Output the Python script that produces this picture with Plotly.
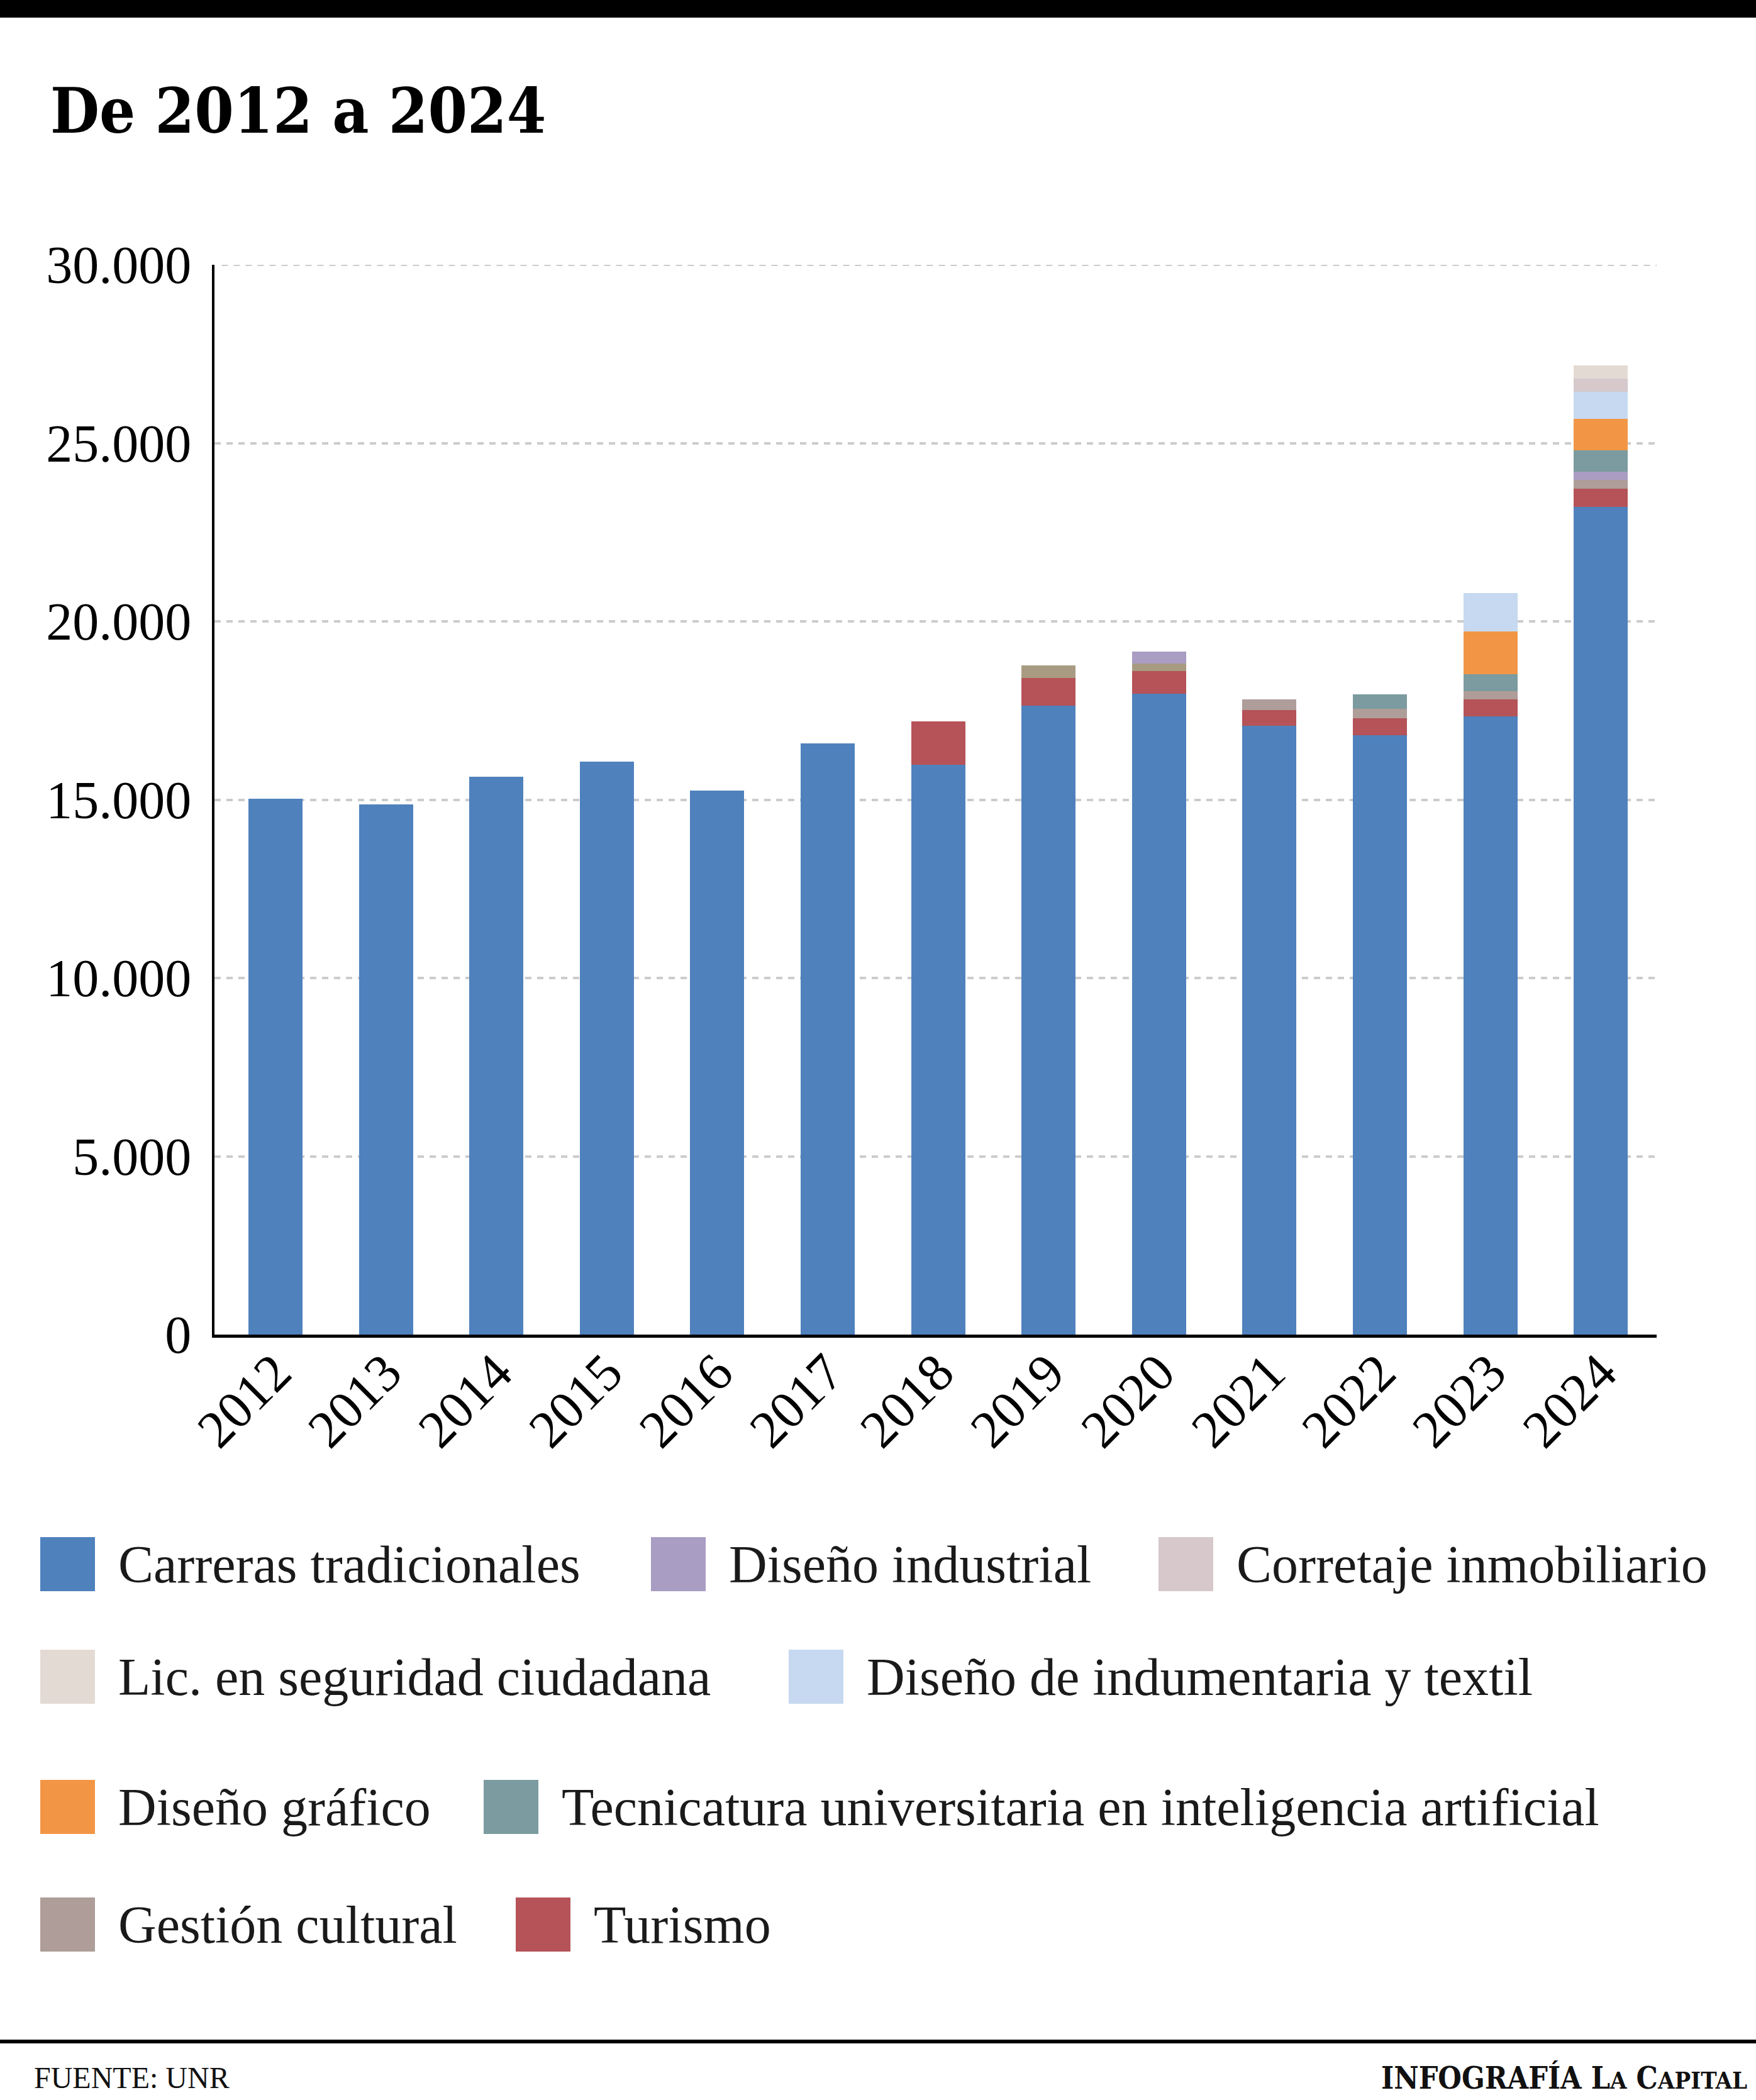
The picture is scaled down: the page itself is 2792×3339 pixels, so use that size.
"""Enrolment by year at UNR, 2012-2024: stacked bars of traditional degrees + new programmes."""

import plotly.graph_objects as go

W, H = 2792, 3339
L, R, T, B = 341, 2634, 421, 2122        # plot area in page pixels
PW, PH = R - L, B - T

YEARS = ["2012", "2013", "2014", "2015", "2016", "2017", "2018",
         "2019", "2020", "2021", "2022", "2023", "2024"]

CARRERAS = [15020, 14860, 15640, 16070, 15260, 16580, 15980,
            17640, 17980, 17070, 16800, 17330, 23210]
TURISMO = [0, 0, 0, 0, 0, 0, 1210, 770, 620, 440, 490, 480, 520]
GESTION = [0, 0, 0, 0, 0, 0, 0, 360, 210, 300, 250, 230, 230]
DIS_INDUSTRIAL = [0, 0, 0, 0, 0, 0, 0, 0, 350, 0, 0, 0, 240]
TEC_IA = [0, 0, 0, 0, 0, 0, 0, 0, 0, 0, 410, 480, 590]
DIS_GRAFICO = [0, 0, 0, 0, 0, 0, 0, 0, 0, 0, 0, 1200, 890]
INDUMENTARIA = [0, 0, 0, 0, 0, 0, 0, 0, 0, 0, 0, 1080, 750]
CORRETAJE = [0, 0, 0, 0, 0, 0, 0, 0, 0, 0, 0, 0, 380]
SEGURIDAD = [0, 0, 0, 0, 0, 0, 0, 0, 0, 0, 0, 0, 370]

Y_TICKS = [0, 5000, 10000, 15000, 20000, 25000, 30000]
Y_LABELS = ["0", "5.000", "10.000", "15.000", "20.000", "25.000", "30.000"]

# stacking order bottom -> top: (name, values, colour)
SERIES = [
    ("Carreras tradicionales", CARRERAS, "#4f81bd"),
    ("Turismo", TURISMO, "#b55358"),
    ("Gestión cultural", GESTION, "#ae9d98"),
    ("Diseño industrial", DIS_INDUSTRIAL, "#a99dc3"),
    ("Tecnicatura universitaria en inteligencia artificial", TEC_IA, "#7b9ba0"),
    ("Diseño gráfico", DIS_GRAFICO, "#f29646"),
    ("Diseño de indumentaria y textil", INDUMENTARIA, "#c6d9f0"),
    ("Corretaje inmobiliario", CORRETAJE, "#d6c8cb"),
    ("Lic. en seguridad ciudadana", SEGURIDAD, "#e4dad4"),
]
# 2019/2020 Gestión cultural block is printed in a khaki tone in the original
GESTION_COLORS = ["#a89b82" if y in ("2019", "2020") else "#ae9d98" for y in YEARS]

# legend rows as laid out in the print version: (name, swatch left px, row centre px)
LEGEND = [
    ("Carreras tradicionales", 64, 2487), ("Diseño industrial", 1035, 2487),
    ("Corretaje inmobiliario", 1842, 2487),
    ("Lic. en seguridad ciudadana", 64, 2666), ("Diseño de indumentaria y textil", 1254, 2666),
    ("Diseño gráfico", 64, 2873),
    ("Tecnicatura universitaria en inteligencia artificial", 769, 2873),
    ("Gestión cultural", 64, 3060), ("Turismo", 820, 3060),
]

SERIF = "Liberation Serif, Times New Roman, serif"
HEAVY = "DejaVu Serif Condensed, DejaVu Serif, serif"
GRID = "#cccccc"


def px(x):
    return (x - L) / PW


def py(y):
    return (B - y) / PH


fig = go.Figure()
for name, vals, color in SERIES:
    fig.add_trace(go.Bar(
        x=YEARS, y=vals, name=name, width=0.49,
        marker=dict(color=GESTION_COLORS if name == "Gestión cultural" else color,
                    line=dict(width=0)),
        showlegend=False,
    ))

colors = {n: c for n, _, c in SERIES}
shapes = [
    dict(type="rect", xref="paper", yref="paper", x0=px(0), x1=px(W), y0=py(0), y1=py(28),
         fillcolor="black", line=dict(width=0), layer="above"),
    dict(type="rect", xref="paper", yref="paper", x0=px(0), x1=px(W), y0=py(3243), y1=py(3249),
         fillcolor="black", line=dict(width=0), layer="above"),
    # top gridline sits on the range edge, plotly skips it
    dict(type="line", xref="paper", yref="y", x0=0.005, x1=1, y0=Y_TICKS[-1], y1=Y_TICKS[-1],
         line=dict(color=GRID, width=4, dash="10px,9px"), layer="below"),
]
annotations = [
    dict(text="<b>De 2012 a 2024</b>", xref="paper", yref="paper", x=px(78), y=py(176),
         xanchor="left", yanchor="middle", showarrow=False,
         font=dict(family=HEAVY, size=100, color="black")),
    dict(text="FUENTE: UNR", xref="paper", yref="paper", x=px(52), y=py(3304),
         xanchor="left", yanchor="middle", showarrow=False,
         font=dict(family=SERIF, size=48, color="#111")),
    dict(text="<b>INFOGRAFÍA L<span style='font-size:38px'>A</span> "
              "C<span style='font-size:38px'>APITAL</span></b>",
         xref="paper", yref="paper", x=px(2780), y=py(3304),
         xanchor="right", yanchor="middle", showarrow=False,
         font=dict(family=HEAVY, size=48, color="#111")),
]
for name, x0, yc in LEGEND:
    shapes.append(dict(type="rect", xref="paper", yref="paper",
                       x0=px(x0), x1=px(x0 + 87), y0=py(yc + 43), y1=py(yc - 43),
                       fillcolor=colors[name], line=dict(width=0)))
    annotations.append(dict(text=name, xref="paper", yref="paper",
                            x=px(x0 + 122), y=py(yc), xanchor="left", yanchor="middle",
                            showarrow=False, font=dict(family=SERIF, size=84, color="#1a1a1a")))

fig.update_layout(
    barmode="stack",
    width=W, height=H,
    margin=dict(l=L, r=W - R, t=T, b=H - B),
    paper_bgcolor="white", plot_bgcolor="white",
    font=dict(family=SERIF, color="black"),
    shapes=shapes, annotations=annotations,
    xaxis=dict(
        type="category", range=[-0.552, 12.506],
        showline=True, linecolor="black", linewidth=5,
        showgrid=False, ticks="", tickangle=-45, ticklabelstandoff=-28,
        tickfont=dict(family=SERIF, size=84, color="black"),
    ),
    yaxis=dict(
        range=[0, 30000], tickvals=Y_TICKS, ticktext=Y_LABELS,
        showline=True, linecolor="black", linewidth=4,
        showgrid=True, gridcolor=GRID, gridwidth=4, griddash="10px,9px",
        zeroline=False, ticks="", ticklabelstandoff=16,
        tickfont=dict(family=SERIF, size=84, color="black"),
    ),
)

# page is sized exactly to the figure: drop the browser's default body margin
fig.write_html("out.html", config={"displayModeBar": False},
               post_script="document.body.style.margin = '0';")
